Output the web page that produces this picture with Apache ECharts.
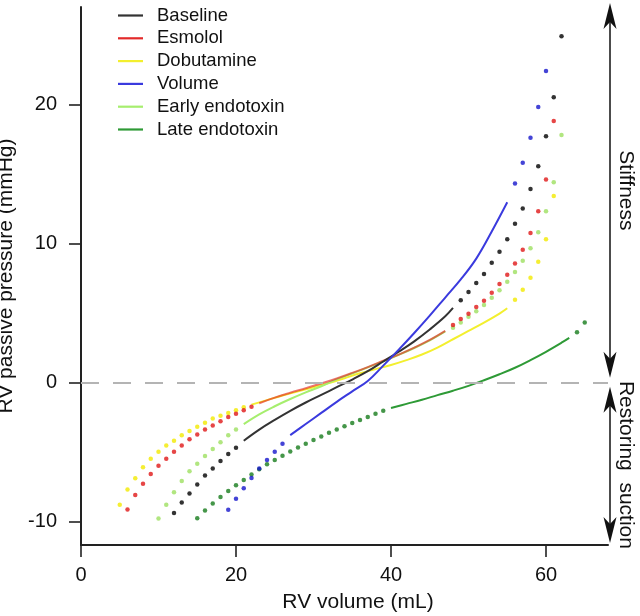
<!DOCTYPE html>
<html><head><meta charset="utf-8">
<script src="https://cdn.jsdelivr.net/npm/echarts@6/dist/echarts.min.js"></script>
<style>html,body{margin:0;padding:0;background:#fff}#c{width:640px;height:616px}</style>
</head><body><div id="c"></div>
<script>
// ---- data (RV volume mL, RV passive pressure mmHg) ----
const seriesNames = ['Baseline','Esmolol','Dobutamine','Volume','Early endotoxin','Late endotoxin'];
const xTicks = [0, 20, 40, 60];
const yTicks = [-10, 0, 10, 20];

const baselineLow  = [[12,-9.4],[13,-8.65],[14,-8.0],[15,-7.35],[16,-6.7],[17,-6.2],[18,-5.65],[19,-5.15],[20,-4.7]];
const baselineFit  = [[21,-4.2],[23,-3.4],[25,-2.7],[27,-2.05],[29,-1.45],[31,-0.9],[33,-0.35],[35,0.2],[37,0.8],[39,1.5],[41,2.2],[43,2.95],[45,3.8],[47,4.75],[48,5.35]];
const baselineHigh = [[49,5.9],[50,6.5],[51,7.15],[52,7.8],[53,8.6],[54,9.4],[55,10.3],[56,11.4],[57,12.5],[58,13.9],[59,15.55],[60,17.7],[61,20.5],[62,24.9]];

const esmololLow  = [[6,-9.15],[7,-8.1],[8,-7.3],[9,-6.6],[10,-6.0],[11,-5.5],[12,-5.0],[13,-4.55],[14,-4.1],[15,-3.75],[16,-3.4],[17,-3.1],[18,-2.8],[19,-2.5],[20,-2.25],[21,-2.0],[22,-1.75]];
const esmololFit  = [[23,-1.5],[25,-1.1],[27,-0.75],[29,-0.42],[31,-0.08],[33,0.28],[35,0.68],[37,1.1],[39,1.55],[41,2.0],[43,2.5],[45,3.05],[47,3.7]];
const esmololHigh = [[48,4.13],[49,4.55],[50,4.94],[51,5.42],[52,5.87],[53,6.45],[54,7.07],[55,7.74],[56,8.55],[57,9.53],[58,10.75],[59,12.3],[60,14.6],[61,18.8]];

const dobutamineLow  = [[5,-8.8],[6,-7.7],[7,-6.9],[8,-6.1],[9,-5.5],[10,-5.0],[11,-4.55],[12,-4.2],[13,-3.8],[14,-3.5],[15,-3.2],[16,-2.9],[17,-2.6],[18,-2.4],[19,-2.2],[20,-2.0],[21,-1.8]];
const dobutamineFit  = [[22,-1.6],[24,-1.28],[26,-0.95],[28,-0.65],[30,-0.35],[32,-0.05],[34,0.3],[36,0.65],[38,0.95],[40,1.25],[42,1.6],[44,2.0],[46,2.5],[48,3.1],[50,3.7],[52,4.3],[54,4.95],[55,5.33]];
const dobutamineHigh = [[56,5.94],[57,6.66],[58,7.52],[59,8.67],[60,10.3],[61,13.4]];

const volumeLow  = [[19,-9.17],[20,-8.38],[21,-7.62],[22,-6.88],[23,-6.2],[24,-5.58],[25,-4.99],[26,-4.41]];
const volumeFit  = [[27,-3.8],[29,-3.0],[31,-2.2],[33,-1.4],[35,-0.65],[37,0.1],[39,1.2],[41,2.35],[43,3.55],[45,4.8],[47,6.1],[49,7.4],[51,8.9],[53,10.85],[55,12.95]];
const volumeHigh = [[56,14.3],[57,15.8],[58,17.6],[59,19.8],[60,22.4]];

const earlyLow  = [[10,-9.8],[11,-8.8],[12,-7.9],[13,-7.1],[14,-6.4],[15,-5.85],[16,-5.3],[17,-4.8],[18,-4.3],[19,-3.8],[20,-3.4]];
const earlyFit  = [[21,-3.0],[23,-2.3],[25,-1.72],[27,-1.2],[29,-0.72],[31,-0.28],[33,0.22],[35,0.64],[37,1.08],[39,1.52],[41,1.98],[43,2.47],[45,3.02],[47,3.66]];
const earlyHigh = [[48,3.92],[49,4.3],[50,4.72],[51,5.12],[52,5.56],[53,6.09],[54,6.62],[55,7.24],[56,7.93],[57,8.74],[58,9.65],[59,10.8],[60,12.3],[61,14.4],[62,17.8]];

const lateLow  = [[15,-9.78],[16,-9.22],[17,-8.72],[18,-8.24],[19,-7.81],[20,-7.4],[21,-7.02],[22,-6.62],[23,-6.26],[24,-5.9],[25,-5.59],[26,-5.28],[27,-4.97],[28,-4.68],[29,-4.42],[30,-4.15],[31,-3.89],[32,-3.63],[33,-3.39],[34,-3.15],[35,-2.93],[36,-2.71],[37,-2.5],[38,-2.26],[39,-2.05]];
const lateFit  = [[40,-1.85],[42,-1.55],[44,-1.25],[46,-0.92],[48,-0.6],[50,-0.25],[52,0.15],[54,0.58],[56,1.05],[58,1.6],[60,2.2],[62,2.85],[63,3.2]];
const lateHigh = [[64,3.6],[65,4.3]];

// ---- styling ----
const FONT = '"Liberation Sans", Arial, Helvetica, sans-serif';
const groups = [
  {name:'Late endotoxin', fit:lateFit, dots:[lateLow, lateHigh], line:'#2e9a36', dot:'#167c1c', op:1},
  {name:'Dobutamine', fit:dobutamineFit, dots:[dobutamineLow, dobutamineHigh], line:'#f3ef2e', dot:'#f2ea00', op:1},
  {name:'Early endotoxin', fit:earlyFit, dots:[earlyLow, earlyHigh], line:'#a6ee6e', dot:'#9ee060', op:1},
  {name:'Esmolol', fit:esmololFit, dots:[esmololLow, esmololHigh], line:'#e32a2a', dot:'#e01818', op:0.65},
  {name:'Baseline', fit:baselineFit, dots:[baselineLow, baselineHigh], line:'#333333', dot:'#000000', op:1},
  {name:'Volume', fit:volumeFit, dots:[volumeLow, volumeHigh], line:'#3a3ade', dot:'#1515cc', op:1}
];

const series = [];
groups.forEach(g => {
  series.push({
    name: g.name, type: 'line', data: g.fit, symbol: 'none', smooth: 0.4,
    lineStyle: {color: g.line, width: 2, opacity: g.op},
    itemStyle: {color: g.line}, silent: true, z: 3
  });
});
groups.forEach(g => {
  g.dots.forEach(d => {
    series.push({
      name: g.name, type: 'scatter', data: d, symbol: 'circle', symbolSize: 4.5,
      itemStyle: {color: g.dot}, silent: true, z: 4
    });
  });
});
// zero reference line
series.push({
  type: 'line', data: [], silent: true,
  markLine: {silent: true, symbol: 'none', label: {show: false},
    lineStyle: {color: '#b4b4b4', width: 2, type: [18, 14]},
    data: [{yAxis: 0}]}
});

const chart = echarts.init(document.getElementById('c'), null, {renderer: 'canvas'});
const option = {
  animation: false,
  backgroundColor: '#fff',
  textStyle: {fontFamily: FONT},
  grid: {left: 81, top: 7, width: 527, height: 538, containLabel: false, outerBoundsMode: 'none'},
  legend: {
    data: seriesNames, orient: 'vertical', left: 113, top: 1,
    icon: 'rect', itemWidth: 25, itemHeight: 2.2, itemGap: 3.8, selectedMode: false,
    textStyle: {fontSize: 18.5, lineHeight: 17, color: '#111', fontFamily: FONT, padding: [0,0,0,9]}
  },
  xAxis: {
    type: 'value', min: 0, max: 68,
    name: 'RV volume (mL)', nameLocation: 'middle', nameGap: 47,
    nameTextStyle: {fontSize: 21, color: '#111', fontFamily: FONT, padding: [0,0,0,27]},
    axisLine: {show: true, onZero: false, lineStyle: {color: '#222', width: 2}},
    axisTick: {show: true, length: 12, lineStyle: {color: '#222', width: 1.6}, customValues: xTicks},
    axisLabel: {fontSize: 20, color: '#111', margin: 20, customValues: xTicks},
    splitLine: {show: false}
  },
  yAxis: {
    type: 'value', min: -11.7, max: 27,
    name: 'RV passive pressure (mmHg)', nameLocation: 'middle', nameGap: 57,
    nameTextStyle: {fontSize: 21, color: '#111', fontFamily: FONT},
    axisLine: {show: true, onZero: false, lineStyle: {color: '#222', width: 2}},
    axisTick: {show: true, length: 12, lineStyle: {color: '#222', width: 1.6}, customValues: yTicks},
    axisLabel: {fontSize: 20, color: '#111', margin: 24, customValues: yTicks},
    splitLine: {show: false}
  },
  series: series
};
chart.setOption(option);

// ---- right-side annotation arrows ----
const pZero = chart.convertToPixel({gridIndex: 0}, [68, 0]);
const pBot = chart.convertToPixel({gridIndex: 0}, [68, -11.7]);
const pTop = chart.convertToPixel({gridIndex: 0}, [68, 27]);
const ax = pZero[0] + 2;
const y0 = pZero[1];
const topTip = pTop[1] - 4;
const botTip = pBot[1] - 2;
const upperLow = y0 - 4.5;
const lowerHigh = y0 + 4.5;
function head(x, tipY, dir) {
  const L = 26, W = 6.5, N = 19;
  return {type: 'polygon', silent: true,
    shape: {points: [[x, tipY], [x - W, tipY - dir * L], [x, tipY - dir * N], [x + W, tipY - dir * L]]},
    style: {fill: '#111'}};
}
const graphics = [
  {type: 'line', silent: true, shape: {x1: ax, y1: topTip + 10, x2: ax, y2: upperLow - 10}, style: {stroke: '#111', lineWidth: 1.5}},
  {type: 'line', silent: true, shape: {x1: ax, y1: lowerHigh + 10, x2: ax, y2: botTip - 10}, style: {stroke: '#111', lineWidth: 1.5}},
  head(ax, topTip, -1), head(ax, upperLow, 1), head(ax, lowerHigh, -1), head(ax, botTip, 1),
  {type: 'text', silent: true, x: ax + 16, y: (topTip + upperLow) / 2, rotation: -Math.PI / 2,
    style: {text: 'Stiffness', font: '21px ' + FONT, fill: '#111', align: 'center', verticalAlign: 'middle'}},
  {type: 'text', silent: true, x: ax + 16, y: (lowerHigh + botTip) / 2, rotation: -Math.PI / 2,
    style: {text: 'Restoring  suction', font: '21px ' + FONT, fill: '#111', align: 'center', verticalAlign: 'middle'}}
];
chart.setOption({graphic: graphics});
</script>
</body></html>
